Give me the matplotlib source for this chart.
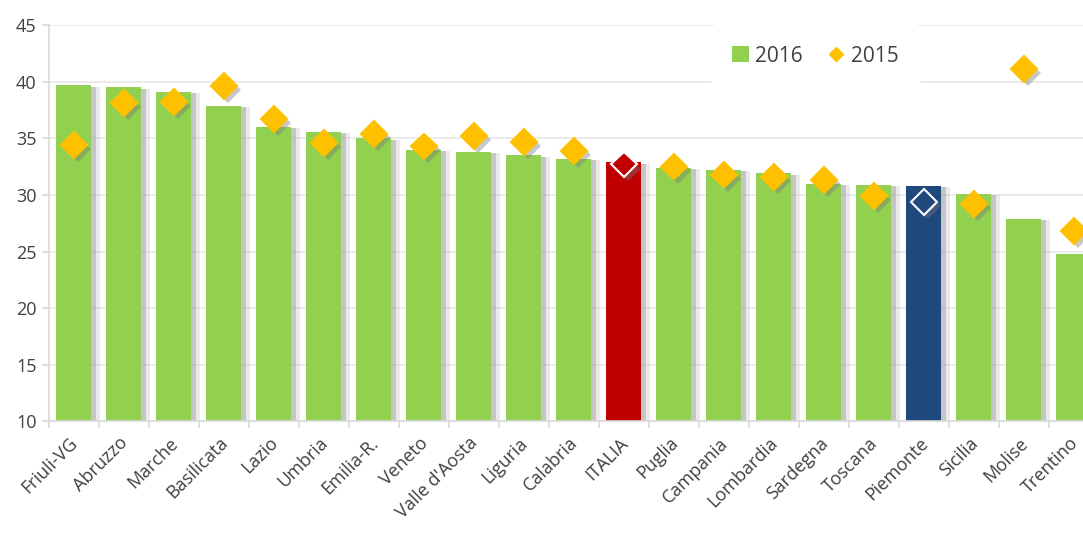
import matplotlib
matplotlib.use('Agg')
import matplotlib.pyplot as plt
import matplotlib.patheffects as pe
import matplotlib.transforms as mtransforms
from matplotlib.lines import Line2D
from matplotlib.patches import Patch
import numpy as np

plt.rcParams['font.family'] = ['Open Sans', 'DejaVu Sans']

regions = ['Friuli-VG', 'Abruzzo', 'Marche', 'Basilicata', 'Lazio', 'Umbria',
           'Emilia-R.', 'Veneto', "Valle d'Aosta", 'Liguria', 'Calabria', 'ITALIA',
           'Puglia', 'Campania', 'Lombardia', 'Sardegna', 'Toscana', 'Piemonte',
           'Sicilia', 'Molise', 'Trentino']
v2016 = [39.7, 39.5, 39.1, 37.9, 36.0, 35.6, 35.0, 34.0, 33.8, 33.5, 33.2, 32.9,
         32.4, 32.2, 31.9, 31.0, 30.9, 30.8, 30.1, 27.9, 24.8]
v2015 = [34.4, 38.1, 38.2, 39.6, 36.7, 34.6, 35.4, 34.3, 35.2, 34.7, 33.9, 32.7,
         32.5, 31.8, 31.6, 31.3, 29.9, 29.4, 29.2, 41.1, 26.8]

green = '#92D050'
red = '#C00000'
navy = '#1F497D'
yellow = '#FFC000'
txt = '#404040'

fig = plt.figure(figsize=(10.83, 5.34), dpi=100)
# the plot runs past the right edge of the picture, like the original
ax = fig.add_axes([0.0452, 0.2107, 0.9695, 0.7423])

x = np.arange(len(regions))
bar_colors = [red if r == 'ITALIA' else navy if r == 'Piemonte' else green for r in regions]
bars = ax.bar(x, v2016, width=0.7, color=bar_colors, zorder=2)
for b in bars:
    b.set_path_effects([
        pe.SimplePatchShadow(offset=(6, -1), shadow_rgbFace='#BBBBBB', alpha=0.3),
        pe.SimplePatchShadow(offset=(3, -1), shadow_rgbFace='#999999', alpha=0.45),
        pe.Normal()])

for xi, v, r in zip(x, v2015, regions):
    if r == 'ITALIA':
        fc, ec = red, 'white'
    elif r == 'Piemonte':
        fc, ec = navy, 'white'
    else:
        fc, ec = yellow, yellow
    ax.plot(xi, v, marker='D', ms=13, mfc=fc, mec=ec, mew=1.5, ls='none', zorder=3,
            path_effects=[pe.SimplePatchShadow(offset=(3, -3), shadow_rgbFace='#777777', alpha=0.4),
                          pe.Normal()])

ax.set_ylim(10, 45)
ax.set_yticks(range(10, 50, 5))
ax.set_xlim(-0.5, len(regions) - 0.5)
ax.grid(axis='y', color='#E8E8E8', lw=1.2, zorder=0)
ax.set_axisbelow(True)

for s in ['top', 'right']:
    ax.spines[s].set_visible(False)
ax.spines['left'].set_color('#D9D9D9')
ax.spines['bottom'].set_color('#D9D9D9')
ax.spines['left'].set_linewidth(1.2)
ax.spines['bottom'].set_linewidth(1.2)

ax.tick_params(axis='y', colors='#D9D9D9', labelcolor=txt, labelsize=13, length=5, width=1.2, pad=4)
ax.set_xticks(x)
ax.set_xticklabels(regions, rotation=45, ha='right', va='top', rotation_mode='anchor',
                   fontsize=13, color=txt)
ax.tick_params(axis='x', length=0, pad=9)
shift = mtransforms.ScaledTranslation(-5 / 100, 0, fig.dpi_scale_trans)
for lab in ax.get_xticklabels():
    lab.set_transform(lab.get_transform() + shift)
ax.set_xticks(np.arange(-0.5, len(regions), 1), minor=True)
ax.tick_params(axis='x', which='minor', length=5, width=1.2, colors='#D9D9D9')

handles = [Patch(facecolor=green, edgecolor='none', label='2016'),
           Line2D([], [], marker='D', ls='none', ms=7, mfc=yellow, mec=yellow, label='2015')]
leg = ax.legend(handles=handles, loc='center', bbox_to_anchor=(0.753, 0.895),
                bbox_transform=fig.transFigure, ncol=2, frameon=True, fontsize=15,
                handlelength=0.8, handleheight=0.8, handletextpad=0.3, columnspacing=1.2,
                borderpad=1.0, labelcolor=txt)
leg.get_frame().set_edgecolor('white')
leg.get_frame().set_facecolor('white')
leg.get_frame().set_alpha(1)

fig.savefig('out.png', dpi=100)
